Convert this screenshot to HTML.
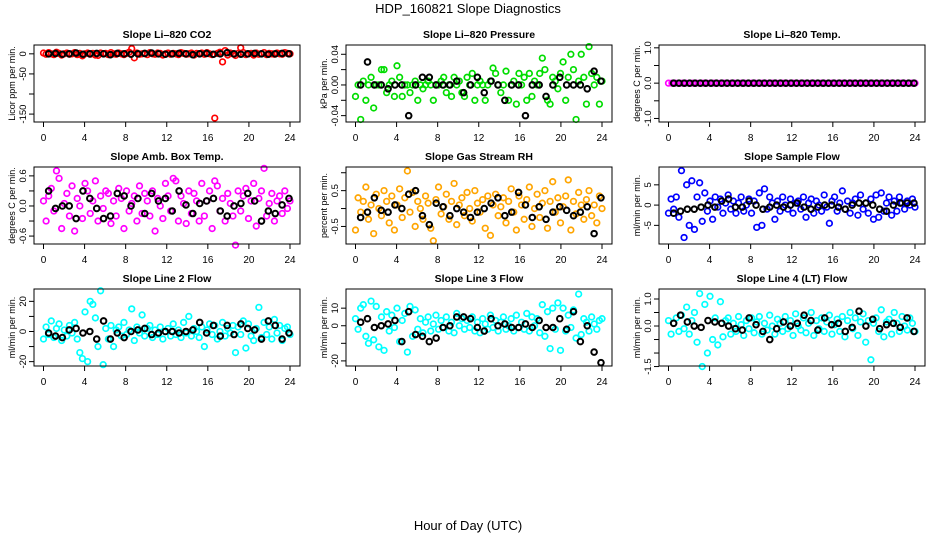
<!DOCTYPE html>
<html><head><meta charset="utf-8"><style>
html,body{margin:0;padding:0;background:#fff;}
svg{display:block;font-family:"Liberation Sans",Arial,sans-serif;}
</style></head><body>
<svg id="chart" width="936" height="540" viewBox="0 0 936 540">
<text x="468" y="13" font-size="13" text-anchor="middle">HDP_160821  Slope Diagnostics</text>
<text x="468" y="530" font-size="13" text-anchor="middle">Hour of Day (UTC)</text>
</svg>
<script>
const xTicks = [0,4,8,12,16,20,24];
const co2Color = [2,-1,3,0,-2,4,1,-3,0,2,-1,0,3,-2,1,-5,0,2,-1,1,-3,-4,2,0,1,-2,3,0,-1,2,0,-2,1,4,13,-10,2,-1,0,1,-2,3,0,-1,2,1,-3,0,2,-1,1,0,-2,3,1,-1,0,2,-3,1,0,2,-1,3,0,-2,-160,1,4,-20,8,-3,2,0,-4,1,15,3,-2,0,1,-3,2,-1,0,3,-2,1,0,-1,2,0,-1,3,1,0];
const co2Black = [0,1,-1,0,2,-1,0,1,0,-2,1,0,-1,0,1,2,0,-1,0,1,0,-2,0,1,-1,0,3,0,-1,0,1,0,-1,0,1,0];
const presColor = [-0.015,0,-0.045,0.005,-0.02,0,0.01,-0.03,0,0,0.02,0.02,-0.01,0,0.005,-0.015,0.025,0.01,-0.015,0,0,-0.01,0,0.005,-0.02,0,-0.005,0,0.005,0,-0.02,0,0,0.005,0.01,-0.01,0,-0.015,0.01,0,0.005,-0.01,-0.015,0.01,0,0.015,-0.02,0,0.005,0,-0.02,0,0.005,0.022,0.015,0,-0.01,0,0.018,-0.02,0,0.005,-0.025,0.015,0,0.01,-0.02,0.015,-0.015,0.005,0,0.015,0.035,0.02,-0.02,-0.025,0.01,0.005,-0.005,0.015,0.03,-0.02,0.01,0.04,0.02,-0.045,0.005,0.04,0.01,-0.025,0.05,0.015,0,0.01,-0.025,0.005];
const presBlack = [0,0.03,0,0,-0.005,0,0,-0.04,0,0.01,0.01,0,0,0,0.005,-0.01,0,0.01,-0.01,0.005,0,-0.02,0,0,-0.04,0,0,-0.015,0,0.01,0,0,0,-0.005,0.018,0.005];
const tempColor = [0,0,0,0,0,0,0,0,0,0,0,0,0,0,0,0,0,0,0,0,0,0,0,0,0,0,0,0,0,0,0,0,0,0,0,0,0,0,0,0,0,0,0,0,0,0,0,0,0,0,0,0,0,0,0,0,0,0,0,0,0,0,0,0,0,0,0,0,0,0,0,0];
const tempBlack = [0,0,0,0,0,0,0,0,0,0,0,0,0,0,0,0,0,0,0,0,0,0,0,0,0,0,0,0,0,0,0,0,0,0,0,0,0,0,0,0,0,0,0,0,0,0];
const ambColor = [0.1,-0.3,0.2,0.35,-0.1,0.7,0.55,-0.45,0.05,0.25,-0.2,0.4,-0.5,0.15,0.0,-0.25,0.45,0.3,-0.15,0.1,0.5,-0.3,0.2,-0.05,0.3,0.25,-0.35,0.1,-0.2,0.35,0.15,-0.45,0.3,-0.1,0.05,0.2,-0.3,0.4,-0.15,0.25,0.1,-0.2,0.3,-0.5,0.15,0.0,-0.25,0.45,0.2,-0.1,0.55,0.5,-0.3,0.2,0.05,-0.35,0.3,-0.15,0.25,0.1,-0.3,0.45,-0.2,0.1,0.3,-0.45,0.5,0.4,-0.1,0.15,-0.3,0.25,0.05,-0.2,-0.78,0.3,-0.1,0.2,0.35,-0.25,0.1,0.45,-0.4,0.15,0.3,0.75,-0.2,0.05,0.25,-0.3,0.1,0.2,-0.15,0.3,-0.05,0.1];
const ambBlack = [0.3,-0.05,0,0.0,-0.25,0.3,0.15,-0.05,-0.25,-0.2,0.25,0.2,0.0,0.15,-0.15,0.25,0.1,0.15,-0.1,0.3,0.02,-0.15,0.05,0.1,0.15,-0.1,-0.2,0.0,0.05,0.25,0.1,-0.3,-0.1,-0.15,0.02,0.15];
const rhColor = [-0.6,0.3,-0.1,0.2,0.6,-0.3,0.1,-0.7,0.4,0.0,-0.2,0.5,0.2,-0.4,0.35,-0.6,0.1,0.55,-0.25,0.3,1.05,-0.1,0.45,-0.5,0.2,0.0,-0.3,0.35,0.15,-0.55,-0.9,0.25,0.6,-0.15,0.05,0.4,-0.3,0.2,0.7,-0.45,0.1,0.3,-0.2,0.45,0.0,-0.35,0.5,0.15,-0.1,0.25,-0.55,0.35,-0.75,0.1,0.4,-0.2,0.05,0.3,-0.4,0.2,0.55,-0.1,-0.6,0.35,0.1,-0.3,0.25,0.6,-0.5,0.0,0.4,-0.25,0.15,0.5,-0.55,0.2,0.75,-0.1,0.3,-0.4,0.05,0.35,0.8,-0.6,0.2,-0.15,0.45,0.1,-0.3,0.25,0.5,-0.2,0.1,-0.4,0.35,0.0];
const rhBlack = [-0.25,-0.1,0.3,-0.05,-0.1,0.1,0.0,0.4,0.5,-0.2,-0.45,0.15,0.05,-0.2,0.0,-0.1,-0.25,-0.1,0.0,0.15,0.3,-0.2,-0.1,0.45,0.1,-0.25,0.05,-0.3,-0.1,0.05,-0.05,-0.2,-0.1,0.05,-0.7,0.3];
const sfColor = [-2,1.5,-1,2,-3,8.5,-8,5,-5,6,-6,2,5.5,-4,3,-1.5,1,-3.5,2,-0.5,1.5,-2,0.5,2.5,-1,1,-2,0.5,2,-1.5,0,1.5,-2,1,-5.5,3,-5,4,-1,2,0.5,-3.5,1,-1.5,2,0,-1,1.5,-2,0.5,1,-1,2,-3,0.5,1.5,-2,1,0,-1.5,2.5,-0.5,-4.5,1,2,-1.5,0.5,3.5,-1,1,-2,0.5,1.5,-2.5,2.5,-1,0.5,-2,1.5,-3.5,2.5,-3,3,-1.5,0.5,2,-2.5,1,-1.5,2,0.5,-1,1,0,1.5,-0.5];
const sfBlack = [-2,-1.5,-1,-1,-0.5,0,-0.5,1,1.5,-0.5,-0.5,1,0,-1,-0.5,0,-0.5,0,0.5,-0.5,-1,-0.5,0,0,-0.5,-1,0,0.5,0.5,0,-1,-1.5,0,0.5,0.5,0.5];
const l2Color = [-5,3,-2,7,-4,2,5,-6,1,-3,4,-1,6,-5,-14,-18,13,-20,20,18,9,-10,27,-22,2,-5,4,-10,1,3,-3,6,-2,1,15,-6,3,-1,11,-3,2,4,-4,1,-2,3,-5,0,2,-3,5,-2,1,-4,6,-1,10,-3,2,0,-4,3,-10,1,5,-2,4,-5,0,6,-3,2,-1,4,-14,3,-2,7,-11,5,-3,-6,2,16,-4,6,-2,3,-5,8,-1,4,-6,2,3,-2];
const l2Black = [-1,-3,-4,1,2,-1,0,-5,7,-5,-1,-4,0,1,2,-2,-1,0,0,-1,0,1,6,-1,4,-3,4,-2,5,2,1,-5,7,4,-5,-1];
const l3Color = [4,-2,10,12,-6,-10,14,-8,11,-12,5,-14,8,-3,6,-1,10,-9,3,7,-15,11,-6,9,-2,4,-4,2,5,-3,1,6,-2,3,-1,5,-3,2,-4,7,0,4,-2,3,-1,5,-3,2,-4,4,1,-2,6,-1,3,-3,2,5,-2,0,4,-3,6,-1,2,-2,7,-3,5,0,4,-4,12,-6,8,-13,10,-2,13,-14,10,-3,6,-1,9,-7,18,-5,4,2,-3,5,1,-2,3,4];
const l3Black = [2,4,-1,0,1,3,-9,8,-5,-6,-9,-7,-1,0,5,5,4,-1,-3,4,0,1,-1,-1,1,-1,3,-1,-1,4,-2,8,-9,0,-15,-21];
const l4Color = [0.2,-0.3,0.1,0.3,-0.2,0.4,-0.1,0.7,-0.3,0.2,0.5,-0.6,1.2,-1.5,0.8,-1.0,1.1,-0.5,0.3,-0.7,0.9,-0.4,0.2,0.3,-0.3,0.1,-0.2,0.35,0.05,-0.35,0.2,-0.1,0.3,-0.25,0.15,0.35,-0.3,0.1,-0.15,0.4,0.0,-0.3,0.25,0.1,-0.2,0.35,-0.1,0.2,-0.35,0.45,0.0,-0.15,0.3,-0.25,0.1,0.5,-0.35,0.2,-0.1,0.3,-0.2,0.15,0.4,-0.3,0.05,0.25,-0.2,0.35,-0.4,0.2,0.5,-0.1,0.3,-0.35,0.15,0.45,-0.6,0.2,-1.25,0.1,0.3,-0.2,0.6,-0.4,0.15,0.25,-0.3,0.5,0.1,-0.2,0.35,0.0,-0.15,0.3,0.1,-0.2];
const l4Black = [0.1,0.4,0.15,0.0,-0.05,0.2,0.15,0.1,0.0,-0.1,-0.15,0.3,0.05,-0.2,-0.5,-0.1,0.15,0.0,0.1,0.4,0.2,-0.15,0.3,0.05,0.1,-0.2,-0.05,0.55,0.0,0.25,-0.1,0.05,0.1,-0.05,0.3,-0.2];

const panels = [
 {name:'co2',title:'Slope Li\u2013820 CO2',yl:'Licor ppm per min.',col:0,row:0,ymin:-169.7,ymax:22,ticks:[0,-50,-100,-150],labels:['0','-50','','-150'],color:'#ff0000',c:co2Color,b:co2Black},
 {name:'pressure',title:'Slope Li\u2013820 Pressure',yl:'kPa per min.',col:1,row:0,ymin:-0.0483,ymax:0.0521,ticks:[0.04,0.02,0,-0.02,-0.04],labels:['0.04','','0.00','','-0.04'],color:'#00dd00',c:presColor,b:presBlack},
 {name:'temp',title:'Slope Li\u2013820 Temp.',yl:'degrees C per min.',col:2,row:0,ymin:-1.1,ymax:1.08,ticks:[1,0.5,0,-0.5,-1],labels:['1.0','','0.0','','-1.0'],color:'#ff00ff',c:tempColor,b:tempBlack},
 {name:'amb-temp',title:'Slope Amb. Box Temp.',yl:'degrees C per min.',col:0,row:1,ymin:-0.758,ymax:0.777,ticks:[0.6,0.3,0,-0.3,-0.6],labels:['0.6','','0.0','','-0.6'],color:'#ff00ff',c:ambColor,b:ambBlack},
 {name:'rh',title:'Slope Gas Stream RH',yl:'percent per min.',col:1,row:1,ymin:-0.99,ymax:1.16,ticks:[1,0.5,0,-0.5],labels:['','0.5','','-0.5'],color:'#ffa500',c:rhColor,b:rhBlack},
 {name:'sample-flow',title:'Slope Sample Flow',yl:'ml/min per min.',col:2,row:1,ymin:-9.6,ymax:9.4,ticks:[5,0,-5],labels:['5','0','-5'],color:'#0000ff',c:sfColor,b:sfBlack},
 {name:'line2',title:'Slope Line 2 Flow',yl:'ml/min per min.',col:0,row:2,ymin:-22.9,ymax:28.2,ticks:[20,10,0,-10,-20],labels:['20','','0','','-20'],color:'#00ffff',c:l2Color,b:l2Black},
 {name:'line3',title:'Slope Line 3 Flow',yl:'ml/min per min.',col:1,row:2,ymin:-22.9,ymax:20.9,ticks:[10,0,-10,-20],labels:['10','0','','-20'],color:'#00ffff',c:l3Color,b:l3Black},
 {name:'line4',title:'Slope Line 4 (LT) Flow',yl:'ml/min per min.',col:2,row:2,ymin:-1.48,ymax:1.37,ticks:[1,0.5,0,-0.5,-1,-1.5],labels:['1.0','','0.0','','','-1.5'],color:'#00ffff',c:l4Color,b:l4Black}
];
const svg = document.getElementById('chart');
const NS = 'http://www.w3.org/2000/svg';
const colLeft = [34,346,659], rowTop = [45,167,289], W = 266, H = 77;
function mk(tag, attrs, parent){const e=document.createElementNS(NS,tag);for(const k in attrs)e.setAttribute(k,attrs[k]);(parent||svg).appendChild(e);return e;}
panels.forEach(p=>{
  const L=colLeft[p.col], T=rowTop[p.row];
  const g = mk('g',{});
  
  
  const xs = t => L+9.5+t*(W-19.5)/24;
  const ys = v => T+(p.ymax-v)/(p.ymax-p.ymin)*H;
  const tt = mk('text',{x:L+W/2,y:T-7,'font-size':'10.5','font-weight':'bold','text-anchor':'middle'},g);
  tt.textContent=p.title;
  
  
  const yt = mk('text',{transform:`translate(${L-19},${T+H/2}) rotate(-90)`,'font-size':'9','text-anchor':'middle'},g);
  yt.textContent=p.yl;
  
  
  const y1=ys(p.ticks[0]), y2=ys(p.ticks[p.ticks.length-1]);
  mk('line',{x1:L,x2:L,y1:y1,y2:y2,stroke:'#000','stroke-width':1},g);
  p.ticks.forEach((t,i)=>{
    const y=ys(t);
    mk('line',{x1:L-5,x2:L,y1:y,y2:y,stroke:'#000'},g);
    if(p.labels[i]){
      const lb=mk('text',{transform:`translate(${L-8},${y}) rotate(-90)`,'font-size':'9.5','text-anchor':'middle'},g);
      lb.textContent=p.labels[i];
      
      
    }
  });
  mk('line',{x1:xs(0),x2:xs(24),y1:T+H,y2:T+H,stroke:'#000'},g);
  xTicks.forEach(t=>{
    mk('line',{x1:xs(t),x2:xs(t),y1:T+H,y2:T+H+5,stroke:'#000'},g);
    const lb=mk('text',{x:xs(t),y:T+H+19,'font-size':'10','text-anchor':'middle'},g);
    lb.textContent=t;
    
    
  });
  const n=p.c.length;
  p.c.forEach((v,i)=>{
    const c=mk('circle',{cx:xs(i*24/(n-1)),cy:ys(v),r:2.8,fill:'none',stroke:p.color,'stroke-width':1.7},g);
    
    
  });
  const m=p.b.length;
  p.b.forEach((v,i)=>{
    const c=mk('circle',{cx:xs(0.5+i*23.4/(m-1)),cy:ys(v),r:2.8,fill:'none',stroke:'#000','stroke-width':2},g);
    
    
  });
  const box=mk('rect',{x:L,y:T,width:W,height:H,fill:'none',stroke:'#000','stroke-width':1},g);
  
  
});
</script>
</body></html>
